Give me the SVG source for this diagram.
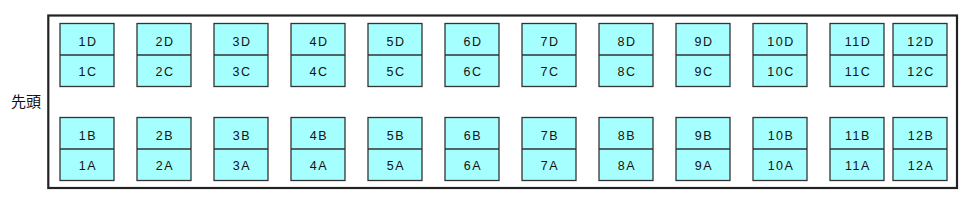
<svg xmlns="http://www.w3.org/2000/svg" width="973" height="204" viewBox="0 0 973 204">
<style>
.car{fill:#fff;stroke:#222;stroke-width:2.2}
.seat{fill:#a6ffff;stroke:#333;stroke-width:1.3}
.lbl{font-family:"Liberation Sans",Arial,sans-serif;font-size:12.5px;letter-spacing:1.5px;fill:#111;text-anchor:middle}
.head{font-family:"Noto Sans CJK JP","Noto Sans CJK SC",sans-serif;font-size:15px;fill:#111}
</style>
<rect width="973" height="204" fill="#fff"/>
<g id="car"><rect class="car" x="48.3" y="15.5" width="908.7" height="172.5"/></g>
<g id="front"><text class="head" x="11" y="107">先頭</text></g>
<defs>
<g id="pair">
<rect class="seat" x="0" y="0" width="54" height="63"/>
<line x1="0" y1="31.5" x2="54" y2="31.5" stroke="#333" stroke-width="1.3"/>
</g>
</defs>
<g id="row1"><use href="#pair" x="60" y="23.5"/><text class="lbl" x="88" y="45.5">1D</text><text class="lbl" x="88" y="75.5">1C</text><use href="#pair" x="60" y="117.5"/><text class="lbl" x="88" y="140">1B</text><text class="lbl" x="88" y="170">1A</text></g>
<g id="row2"><use href="#pair" x="137" y="23.5"/><text class="lbl" x="165" y="45.5">2D</text><text class="lbl" x="165" y="75.5">2C</text><use href="#pair" x="137" y="117.5"/><text class="lbl" x="165" y="140">2B</text><text class="lbl" x="165" y="170">2A</text></g>
<g id="row3"><use href="#pair" x="214" y="23.5"/><text class="lbl" x="242" y="45.5">3D</text><text class="lbl" x="242" y="75.5">3C</text><use href="#pair" x="214" y="117.5"/><text class="lbl" x="242" y="140">3B</text><text class="lbl" x="242" y="170">3A</text></g>
<g id="row4"><use href="#pair" x="291" y="23.5"/><text class="lbl" x="319" y="45.5">4D</text><text class="lbl" x="319" y="75.5">4C</text><use href="#pair" x="291" y="117.5"/><text class="lbl" x="319" y="140">4B</text><text class="lbl" x="319" y="170">4A</text></g>
<g id="row5"><use href="#pair" x="368" y="23.5"/><text class="lbl" x="396" y="45.5">5D</text><text class="lbl" x="396" y="75.5">5C</text><use href="#pair" x="368" y="117.5"/><text class="lbl" x="396" y="140">5B</text><text class="lbl" x="396" y="170">5A</text></g>
<g id="row6"><use href="#pair" x="445" y="23.5"/><text class="lbl" x="473" y="45.5">6D</text><text class="lbl" x="473" y="75.5">6C</text><use href="#pair" x="445" y="117.5"/><text class="lbl" x="473" y="140">6B</text><text class="lbl" x="473" y="170">6A</text></g>
<g id="row7"><use href="#pair" x="522" y="23.5"/><text class="lbl" x="550" y="45.5">7D</text><text class="lbl" x="550" y="75.5">7C</text><use href="#pair" x="522" y="117.5"/><text class="lbl" x="550" y="140">7B</text><text class="lbl" x="550" y="170">7A</text></g>
<g id="row8"><use href="#pair" x="599" y="23.5"/><text class="lbl" x="627" y="45.5">8D</text><text class="lbl" x="627" y="75.5">8C</text><use href="#pair" x="599" y="117.5"/><text class="lbl" x="627" y="140">8B</text><text class="lbl" x="627" y="170">8A</text></g>
<g id="row9"><use href="#pair" x="676" y="23.5"/><text class="lbl" x="704" y="45.5">9D</text><text class="lbl" x="704" y="75.5">9C</text><use href="#pair" x="676" y="117.5"/><text class="lbl" x="704" y="140">9B</text><text class="lbl" x="704" y="170">9A</text></g>
<g id="row10"><use href="#pair" x="753" y="23.5"/><text class="lbl" x="781" y="45.5">10D</text><text class="lbl" x="781" y="75.5">10C</text><use href="#pair" x="753" y="117.5"/><text class="lbl" x="781" y="140">10B</text><text class="lbl" x="781" y="170">10A</text></g>
<g id="row11"><use href="#pair" x="830" y="23.5"/><text class="lbl" x="858" y="45.5">11D</text><text class="lbl" x="858" y="75.5">11C</text><use href="#pair" x="830" y="117.5"/><text class="lbl" x="858" y="140">11B</text><text class="lbl" x="858" y="170">11A</text></g>
<g id="row12"><use href="#pair" x="893" y="23.5"/><text class="lbl" x="921" y="45.5">12D</text><text class="lbl" x="921" y="75.5">12C</text><use href="#pair" x="893" y="117.5"/><text class="lbl" x="921" y="140">12B</text><text class="lbl" x="921" y="170">12A</text></g>
<g id="connectors"></g>
</svg>
